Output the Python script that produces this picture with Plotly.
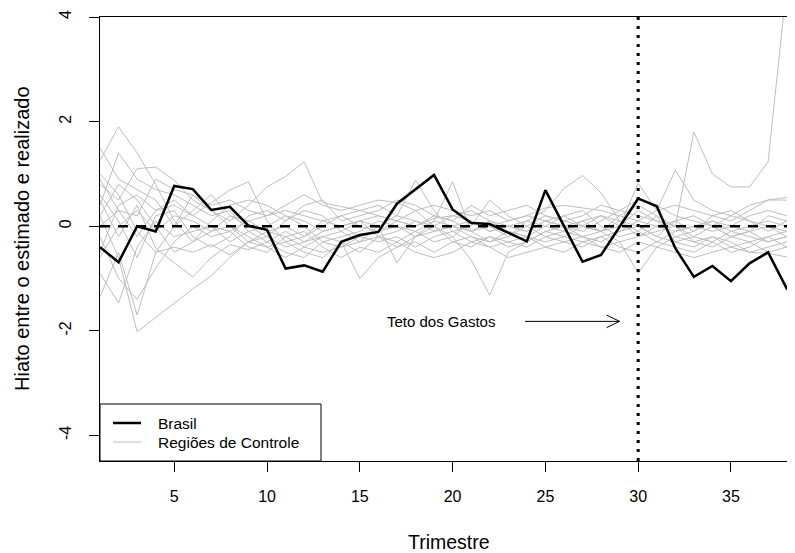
import plotly.graph_objects as go

# ---------------- data ----------------
trimestre = list(range(1, 40))

brasil = [-0.40, -0.69, 0.00, -0.10, 0.77, 0.71, 0.31, 0.37, 0.01, -0.07,
          -0.81, -0.75, -0.87, -0.30, -0.17, -0.11, 0.43, 0.70, 0.98, 0.32,
          0.06, 0.04, -0.13, -0.29, 0.69, 0.00, -0.68, -0.55, 0.00, 0.53,
          0.38, -0.42, -0.97, -0.76, -1.05, -0.71, -0.50, -1.19, -1.05]

reg01 = [0.9, 0.3, -0.2, 0.3, 0.4, 0.2, 0.0, -0.1, 0.1, 0.2, 0.3, 0.2, 0.1, 0.0, 0.1, 0.2, 0.1, 0.0, 0.2, 0.1,
         -0.1, 0.0, 0.1, 0.2, 0.1, 0.0, -0.1, 0.1, 0.3, 0.2, 0.1, 0.0, 1.8, 1.0, 0.75, 0.75, 1.23, 4.6, 6.0]
reg02 = [1.26, 1.9, 1.4, 0.8, 0.1, -0.3, -0.1, 0.2, 0.1, -0.1, 0.0, -0.2, 0.1, 0.2, 0.0, -0.1, 0.1, 0.3, 0.0, -0.2,
         0.1, 0.0, -0.2, 0.0, 0.2, 0.1, 0.0, -0.1, 0.0, 0.3, 0.1, -0.2, -0.1, 0.1, 0.0, -0.1, 0.2, 0.1, 0.0]
reg03 = [0.2, -0.6, -2.02, -1.75, -1.47, -1.2, -0.95, -0.6, -0.3, -0.2, -0.4, -0.3, -0.1, 0.0, -0.2, -0.1, 0.0, -0.2, -0.1, 0.0,
         -0.2, -0.3, -0.1, -0.2, 0.0, -0.1, -0.2, -0.1, -0.3, -0.2, -0.1, 0.0, -0.2, -0.3, -0.1, -0.2, -0.3, -0.2, -0.3]
reg04 = [-1.35, -0.5, -1.7, -0.5, -0.4, -0.5, -0.35, -0.55, -0.3, -0.1, -0.2, -0.4, -0.2, -0.3, -1.0, -0.6, -0.4, -0.3, -0.5, -0.3,
         -0.4, -0.2, -0.3, -0.4, -0.2, -0.3, -0.2, -0.4, -0.3, -0.9, -0.4, -0.2, -0.3, -0.4, -0.2, -0.3, -0.5, -0.4, -0.3]
reg05 = [0.5, -0.2, 0.4, -0.42, -0.7, -0.97, -0.6, -0.35, -0.45, -0.3, -0.1, -0.3, -0.2, -0.1, 0.1, -0.2, -0.3, -0.1, 0.1, 0.0,
         -0.1, 0.1, 0.0, -0.1, 0.1, 0.2, 0.0, -0.1, 0.1, 0.0, -0.2, 0.1, 0.2, 0.0, -0.2, -0.1, 0.0, -0.1, -0.3]
reg06 = [0.8, 0.5, 1.1, 1.13, 0.88, 0.5, 0.3, 0.1, 0.4, 0.75, 0.95, 1.23, 0.45, 0.38, 0.3, 0.2, 0.1, 0.0, 0.15, 0.2,
         0.1, -0.1, 0.0, 0.1, 0.3, 0.72, 0.97, 0.64, 0.1, -0.2, 0.0, 0.1, -0.1, 0.2, 0.3, 0.1, 0.0, -0.2, -0.1]
reg07 = [-0.5, 0.4, 0.6, 0.3, 0.5, 0.2, 0.45, 0.69, 0.85, 0.1, -0.3, -0.2, 0.0, 0.2, 0.3, 0.4, 0.2, 0.88, 0.3, -0.1,
         0.0, 0.5, 0.2, 0.0, -0.2, -0.1, 0.1, 0.2, 0.0, 0.82, 0.3, 1.07, 0.5, 0.3, 0.2, 0.4, 0.5, 0.5, 0.36]
reg08 = [1.5, 0.9, 0.7, 0.5, 0.0, 0.3, 0.6, 0.2, 0.0, -0.2, 0.1, 0.3, 0.2, -0.1, -0.3, 0.0, -0.7, -0.2, 0.1, 0.85,
         -0.1, -0.3, -0.2, 0.1, 0.0, 0.2, 0.3, 0.0, -0.2, -0.1, 0.2, 0.0, -0.3, -0.2, -0.4, -0.3, -0.2, -0.4, -0.5]
reg09 = [-0.9, -1.47, -0.4, 0.1, -0.2, -0.1, 0.0, -0.3, -0.1, 0.0, 0.2, 0.0, -0.3, -0.2, -0.1, 0.1, 0.0, -0.1, -0.3, -0.2,
         -0.65, -1.32, -0.5, -0.3, -0.1, 0.0, -0.2, -0.3, -0.1, 0.0, -0.2, -0.3, -0.4, -0.2, -0.3, -0.5, -0.52, -0.59, -0.6]
reg10 = [0.4, 1.4, 0.9, 0.7, 0.6, 0.4, 0.2, 0.3, -0.1, -0.3, -0.5, -0.6, -0.3, -0.4, -0.2, -0.3, -0.2, -0.4, -0.2, -0.1,
         -0.3, -0.2, -0.4, -0.3, -0.1, -0.2, -0.3, -0.2, -0.1, 0.1, 0.0, -0.1, 0.0, 0.1, -0.1, 0.0, 0.1, 0.0, -0.1]
reg11 = [0.0, 0.3, 0.2, 0.9, 0.7, 0.6, 0.4, 0.5, 0.3, 0.2, 0.4, 0.6, 0.4, 0.3, 0.4, 0.5, 0.45, 0.3, 0.4, 0.3,
         0.2, 0.3, 0.1, 0.2, 0.35, 0.4, 0.35, 0.3, 0.2, 0.1, 0.3, 0.4, 0.3, 0.2, 0.1, 0.3, 0.5, 0.55, 0.45]
reg12 = [-0.2, -1.0, -1.4, -0.8, -0.3, 0.0, -0.2, -0.1, -0.4, -0.5, -0.2, -0.1, -0.4, -0.6, -0.4, -0.5, -0.3, -0.5, -0.6, -0.5,
         -0.3, -0.4, -0.6, -0.5, -0.4, -0.5, -0.3, -0.4, -0.5, -0.3, -0.4, -0.5, -0.6, -0.5, -0.4, -0.5, -0.4, -0.3, -0.4]
reg13 = [0.6, 0.1, -0.6, 0.2, 0.3, -0.2, -0.4, -0.2, 0.2, 0.3, 0.1, 0.4, 0.5, 0.1, 0.2, 0.3, 0.5, 0.4, 0.2, 0.1,
         0.4, 0.2, 0.3, 0.4, 0.2, 0.1, 0.2, 0.4, 0.3, 0.5, 0.4, 0.2, 0.1, 0.0, 0.2, 0.1, -0.1, 0.1, 0.2]
reg14 = [-0.6, 0.0, 0.3, -0.1, 0.2, 0.1, -0.1, 0.0, -0.2, -0.4, -0.3, -0.5, -0.6, -0.3, -0.5, -0.2, -0.1, 0.1, -0.1, 0.0,
         0.1, -0.1, 0.0, -0.1, 0.1, 0.0, 0.1, -0.1, 0.2, 0.4, 0.2, -0.3, -0.2, 0.0, -0.2, -0.1, -0.3, -0.2, -0.2]
reg15 = [0.2, 0.8, 0.5, 0.0, -0.5, -0.3, 0.1, 0.4, 0.5, 0.4, 0.2, 0.1, -0.1, 0.0, 0.1, 0.0, 0.2, 0.1, 0.0, 0.2,
         0.3, 0.1, -0.1, -0.2, -0.3, -0.2, 0.0, 0.2, 0.1, -0.1, -0.3, -0.1, 0.0, -0.1, 0.0, 0.2, 0.3, 0.2, 0.1]
reg16 = [1.0, 0.6, -0.1, -0.5, 0.0, 0.6, 0.3, 0.0, -0.3, -0.4, -0.6, -0.4, -0.5, -0.4, -0.3, -0.2, -0.4, -0.2, 0.0, -0.3,
         -0.2, -0.4, -0.3, -0.2, -0.4, -0.3, -0.4, -0.2, -0.4, -0.5, -0.3, -0.4, -0.5, -0.3, -0.5, -0.4, -0.2, -0.1, -0.2]

regioes = [reg01, reg02, reg03, reg04, reg05, reg06, reg07, reg08,
           reg09, reg10, reg11, reg12, reg13, reg14, reg15, reg16]

x_ticks = [5, 10, 15, 20, 25, 30, 35]
y_ticks = [-4, -2, 0, 2, 4]
tratamento = 30            # Teto dos Gastos
anot_texto = "Teto dos Gastos"
anot_x, anot_y = 19.37, -1.82
seta_x0, seta_x1 = 23.9, 29.0

GRAY = "#bebebe"
FONT = "Liberation Sans, Arial, sans-serif"

# the page body has an 8px margin, so the figure is sized/offset to compensate
PAGE_OFF = 8

fig = go.Figure()
for serie in regioes:
    fig.add_trace(go.Scatter(x=trimestre, y=serie, mode="lines",
                             line=dict(color=GRAY, width=1), showlegend=False,
                             hoverinfo="skip"))
fig.add_trace(go.Scatter(x=trimestre, y=brasil, mode="lines",
                         line=dict(color="black", width=2.5), showlegend=False))

shapes = [
    dict(type="line", xref="paper", yref="y", x0=0, x1=1, y0=0, y1=0,
         line=dict(color="black", width=2.5, dash="10px,8px")),
    dict(type="line", xref="x", yref="paper", x0=tratamento, x1=tratamento, y0=0, y1=1,
         line=dict(color="black", width=3, dash="3px,6px")),
    # arrow
    dict(type="line", xref="x", yref="y", x0=seta_x0, x1=seta_x1, y0=anot_y, y1=anot_y,
         line=dict(color="black", width=1)),
    dict(type="path", xref="x", yref="y",
         path=f"M {seta_x1-0.7} {anot_y+0.12} L {seta_x1} {anot_y} L {seta_x1-0.7} {anot_y-0.12}",
         line=dict(color="black", width=1)),
]

# manual legend (base-R style box); positions relative to the plot area (page px)
def px_x(px):
    return (px - 100) / 695

def px_y(py):
    return (461 - py) / 444

shapes += [
    dict(type="rect", xref="paper", yref="paper", x0=0, x1=px_x(321), y0=0, y1=px_y(404),
         line=dict(color="black", width=1), fillcolor="white", layer="above"),
    dict(type="line", xref="paper", yref="paper", x0=px_x(113), x1=px_x(141),
         y0=px_y(423), y1=px_y(423), line=dict(color="black", width=2.5)),
    dict(type="line", xref="paper", yref="paper", x0=px_x(113), x1=px_x(141),
         y0=px_y(442), y1=px_y(442), line=dict(color=GRAY, width=1)),
]

annotations = [
    dict(x=px_x(156), y=px_y(423), xref="paper", yref="paper", text="Brasil",
         showarrow=False, xanchor="left", yanchor="middle", font=dict(size=15.5, color="black", family=FONT)),
    dict(x=px_x(156), y=px_y(442), xref="paper", yref="paper", text="Regiões de Controle",
         showarrow=False, xanchor="left", yanchor="middle", font=dict(size=15.5, color="black", family=FONT)),
    dict(x=anot_x, y=anot_y, xref="x", yref="y", text=anot_texto, showarrow=False,
         xanchor="center", yanchor="middle", font=dict(size=15, color="black", family=FONT)),
    dict(x=px_x(449), y=px_y(542), xref="paper", yref="paper", text="Trimestre", showarrow=False,
         xanchor="center", yanchor="middle", font=dict(size=19.5, color="black", family=FONT)),
    dict(x=px_x(22), y=px_y(239), xref="paper", yref="paper", text="Hiato entre o estimado e realizado",
         showarrow=False, textangle=-90, xanchor="center", yanchor="middle",
         font=dict(size=20, color="black", family=FONT)),
]

fig.update_layout(
    width=795 - PAGE_OFF, height=553 - PAGE_OFF,
    margin=dict(l=100 - PAGE_OFF, r=0, t=17 - PAGE_OFF, b=92, autoexpand=False),
    paper_bgcolor="white", plot_bgcolor="white",
    shapes=shapes, annotations=annotations,
    showlegend=False,
    font=dict(family=FONT, color="black"),
)
fig.update_xaxes(range=[1, 38.45], tickvals=x_ticks, ticks="outside", ticklen=10,
                 tickcolor="black", showline=True, linecolor="black", linewidth=1,
                 mirror=True, showgrid=False, zeroline=False, automargin=False,
                 tickfont=dict(size=16, color="black", family=FONT), ticklabelstandoff=11)
fig.update_yaxes(range=[-4.49, 4], tickvals=y_ticks, ticktext=[str(v) for v in y_ticks],
                 tickangle=-90, ticks="outside", ticklen=10, tickcolor="black",
                 showline=True, linecolor="black", linewidth=1, mirror=False,
                 showgrid=False, zeroline=False, automargin=False,
                 tickfont=dict(size=16, color="black", family=FONT), ticklabelstandoff=12)

fig.write_html("out.html")
